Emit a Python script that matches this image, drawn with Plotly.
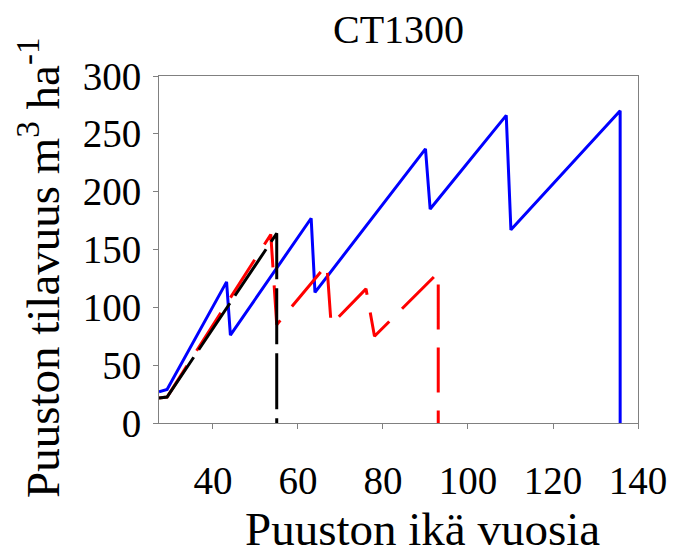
import plotly.graph_objects as go

# Stand age (years) and growing stock volume (m3/ha) per scenario
blue_age = [27.3, 29.2, 43.2, 44.1, 63.1, 64.0, 90.0, 91.1, 109.0, 110.1, 135.8, 135.8]
blue_vol = [27, 29, 122, 76, 177, 113, 237, 185, 266, 167, 270, 0]

red_age = [27.3, 29.2, 53.6, 55.0, 66.8, 67.8, 76.0, 78.0, 93.0, 93.0]
red_vol = [21.6, 22.5, 163, 85, 137, 85, 116, 75, 130, 0]

black_age = [27.3, 29.2, 55.0, 55.0]
black_vol = [21.6, 22.5, 164, 0]

x_ticks = [40, 60, 80, 100, 120, 140]
y_ticks = [0, 50, 100, 150, 200, 250, 300]

FONT = "'Liberation Serif', 'Times New Roman', Times, serif"

fig = go.Figure()
fig.add_trace(go.Scatter(x=blue_age, y=blue_vol, mode="lines",
                         line=dict(color="#0000FF", width=3), showlegend=False))
fig.add_trace(go.Scatter(x=red_age, y=red_vol, mode="lines",
                         line=dict(color="#FF0000", width=3, dash="45px,18px"), showlegend=False))
fig.add_trace(go.Scatter(x=black_age, y=black_vol, mode="lines",
                         line=dict(color="#000000", width=3, dash="56px,9px"), showlegend=False))

axis_common = dict(showgrid=False, zeroline=False, showline=True, linecolor="#808080",
                   linewidth=1, mirror=True, ticks="outside", ticklen=5, tickcolor="#808080",
                   tickfont=dict(family=FONT, size=39, color="black"))

fig.update_layout(
    width=679, height=557,
    margin=dict(l=159, r=37, t=76, b=134),
    paper_bgcolor="white", plot_bgcolor="white",
    font=dict(family=FONT, color="black"),
    xaxis=dict(range=[27.3, 140], tickvals=x_ticks, ticklabelstandoff=18, **axis_common),
    yaxis=dict(range=[0, 300], tickvals=y_ticks, ticklabelstandoff=4, **axis_common),
    annotations=[
        dict(text="CT1300", xref="paper", yref="paper", x=(400 - 159) / 483, y=1 + (76 - 30) / 347,
             xanchor="center", yanchor="middle", showarrow=False,
             font=dict(family=FONT, size=40, color="black")),
        dict(text="Puuston ikä vuosia", xref="paper", yref="paper", x=(425 - 159) / 483,
             y=-(557 - 423) / 347, xanchor="center", yanchor="bottom", showarrow=False,
             font=dict(family=FONT, size=47, color="black")),
        dict(text="Puuston tilavuus m<sup>3</sup> ha<sup>-1</sup>", xref="paper", yref="paper",
             x=(38 - 159) / 483, y=(423 - 268) / 347, xanchor="center", yanchor="middle",
             textangle=-90, showarrow=False,
             font=dict(family=FONT, size=47, color="black")),
    ],
)

fig.write_html("out.html")
